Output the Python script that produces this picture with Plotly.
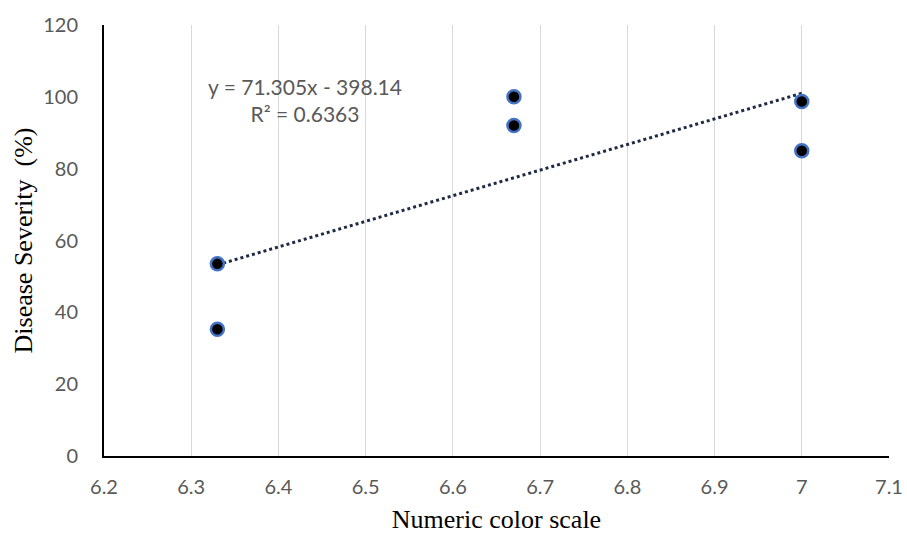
import numpy as np
import plotly.graph_objects as go

color_scale = [6.33, 6.33, 6.67, 6.67, 7.0, 7.0]
severity = [53.5, 35.3, 100.0, 92.0, 98.7, 85.0]
x_ticks = [6.2, 6.3, 6.4, 6.5, 6.6, 6.7, 6.8, 6.9, 7.0, 7.1]
x_tick_text = ["6.2", "6.3", "6.4", "6.5", "6.6", "6.7", "6.8", "6.9", "7", "7.1"]
y_ticks = [0, 20, 40, 60, 80, 100, 120]
eq_text = "y = 71.305x - 398.14<br>R² = 0.6363"

slope, intercept = 71.305, -398.14
tx = [min(color_scale), max(color_scale)]
ty = [slope * v + intercept for v in tx]

fig = go.Figure()
fig.add_trace(go.Scatter(x=tx, y=ty, mode="lines",
                         line=dict(color="#1f2a44", width=3, dash="dot"),
                         hoverinfo="skip", showlegend=False))
fig.add_trace(go.Scatter(x=color_scale, y=severity, mode="markers",
                         marker=dict(size=13, color="black",
                                     line=dict(color="#4472C4", width=2.5)),
                         showlegend=False))

fig.add_annotation(x=6.43, y=99.0, xref="x", yref="y", text=eq_text,
                   showarrow=False, align="center",
                   font=dict(family="Lato, Open Sans, sans-serif", size=21, color="#595959"))

tick_font = dict(family="Lato, Open Sans, sans-serif", size=20, color="#595959")
title_font = dict(family="Liberation Serif, Times New Roman, serif", size=26, color="black")

fig.update_layout(
    width=907, height=534,
    margin=dict(l=104, r=18, t=25, b=78),
    plot_bgcolor="white", paper_bgcolor="white",
    xaxis=dict(range=[6.2, 7.1], tickvals=x_ticks, ticktext=x_tick_text,
               automargin=False,
               showgrid=True, gridcolor="#d9d9d9", gridwidth=1,
               showline=True, linecolor="black", linewidth=2,
               zeroline=False, ticks="outside", ticklen=12, tickcolor="rgba(0,0,0,0)",
               tickfont=tick_font,
               title=dict(text="Numeric color scale", standoff=17, font=title_font)),
    yaxis=dict(range=[0, 120], tickvals=y_ticks, automargin=False,
               showgrid=False, showline=True, linecolor="black", linewidth=2,
               zeroline=False, ticks="outside", ticklen=20, tickcolor="rgba(0,0,0,0)",
               tickfont=tick_font,
               title=dict(text="Disease Severity  (%)", standoff=3, font=title_font)),
)

fig.write_html("out.html", config={"displayModeBar": False})
with open("out.html", "r", encoding="utf-8") as f:
    html = f.read()
html = html.replace("<head>", "<head><style>html,body{margin:0;padding:0;overflow:hidden;}</style>", 1)
with open("out.html", "w", encoding="utf-8") as f:
    f.write(html)
